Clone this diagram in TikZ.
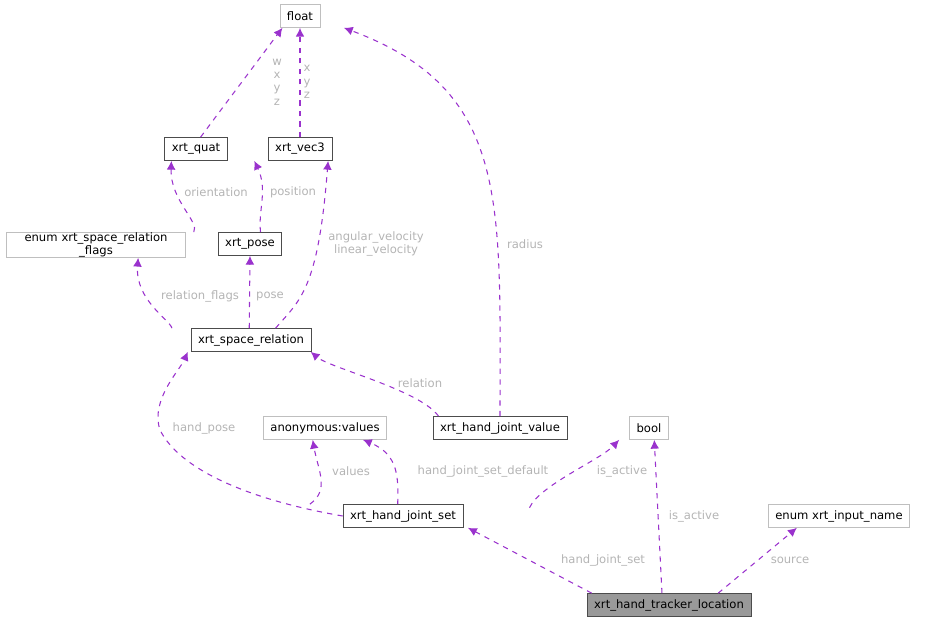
\documentclass[tikz,border=0pt]{standalone}
\usepackage{fontspec}
\setmainfont{DejaVu Sans}
\usetikzlibrary{arrows.meta}
\definecolor{edgepurple}{RGB}{154,50,205}
\definecolor{lblgray}{RGB}{180,180,180}
\definecolor{boxgray}{RGB}{191,191,191}
\tikzset{
  cls/.style = {draw=black!70, fill=white, rectangle, inner xsep=4pt, inner ysep=0pt, minimum height=0.46cm, font=\fontsize{6.6}{7.6}\selectfont, align=center},
  ext/.style = {cls, draw=boxgray},
  main/.style = {cls, fill=black!40},
  use/.style = {draw=edgepurple, dashed, line width=0.6pt, -{Latex[length=5pt,width=5pt]}},
  lbl/.style = {text=lblgray, font=\fontsize{6.6}{7.6}\selectfont, align=center, inner sep=1pt}
}

\begin{document}
\begin{tikzpicture}[x=0.02cm, y=-0.02cm]
    \useasboundingbox (0,0) rectangle (927,623);
    \node [ext] (float) at (300,16) {float};
    \node [cls] (quat) at (196,149) {xrt\_quat};
    \node [cls] (vec3) at (300,149) {xrt\_vec3};
    \node [ext, text width=3.3cm] (flags) at (96,245) {enum xrt\_space\_relation\\\_flags};
    \node [cls] (pose) at (250,244) {xrt\_pose};
    \node [cls] (relation) at (251,340) {xrt\_space\_relation};
    \node [ext] (values) at (325,428) {anonymous:values};
    \node [cls] (jointvalue) at (500,428) {xrt\_hand\_joint\_value};
    \node [ext] (bool) at (649,428) {bool};
    \node [cls] (jointset) at (403,516) {xrt\_hand\_joint\_set};
    \node [ext] (inputname) at (839,516) {enum xrt\_input\_name};
    \node [main] (tracker) at (669,605) {xrt\_hand\_tracker\_location};

    \draw [use] (quat.north east) ++(-27,0) coordinate (q1) -- ([xshift=-10]float.south);
    \node [lbl] at (277,82) {w\\x\\y\\z};
    \draw [use] (vec3.north) -- (float.south);
    \node [lbl] at (307,82) {x\\y\\z};
    \draw [use] ([xshift=-32]pose.north) .. controls (200,222) and (170,200) .. ([xshift=-14]quat.south);
    \node [lbl] at (216,192) {orientation};
    \draw [use] ([xshift=6]pose.north) .. controls (258,210) and (268,190) .. ([xshift=-26]vec3.south);
    \node [lbl] at (293,192) {position};
    \draw [use] ([xshift=-45]relation.north) .. controls (170,320) and (135,300) .. ([xshift=24]flags.south);
    \node [lbl] at (200,296) {relation\_flags};
    \draw [use] ([xshift=-1]relation.north) -- (pose.south);
    \node [lbl] at (270,296) {pose};
    \draw [use] ([xshift=14]relation.north) .. controls (300,300) and (318,290) .. ([xshift=16]vec3.south);
    \node [lbl] at (376,244) {angular\_velocity\\linear\_velocity};
    \draw [use] (jointvalue.north) .. controls (500,200) and (510,90) .. ([xshift=25]float.south);
    \node [lbl] at (525,244) {radius};
    \draw [use] ([xshift=-35]jointvalue.north) .. controls (420,390) and (330,368) .. ([xshift=34]relation.south);
    \node [lbl] at (420,383) {relation};
    \draw [use] (jointset.west) .. controls (250,500) and (180,470) .. (160,430) .. controls (150,400) and (180,370) .. ([xshift=-36]relation.south);
    \node [lbl] at (204,428) {hand\_pose};
    \draw [use] ([xshift=-53]jointset.north) .. controls (330,490) and (318,470) .. ([xshift=-7]values.south);
    \node [lbl] at (351,471) {values};
    \draw [use] ([xshift=-3]jointset.north) .. controls (398,480) and (400,455) .. ([xshift=-78]jointvalue.south);
    \node [lbl] at (483,471) {hand\_joint\_set\_default};
    \draw [use] ([xshift=72,yshift=-2]jointset.north) .. controls (540,485) and (600,460) .. ([xshift=-17]bool.south);
    \node [lbl] at (622,471) {is\_active};
    \draw [use] ([xshift=-4]tracker.north) -- ([xshift=3]bool.south);
    \node [lbl] at (694,516) {is\_active};
    \draw [use] ([xshift=-44]tracker.north) -- ([xshift=37]jointset.south);
    \node [lbl] at (603,560) {hand\_joint\_set};
    \draw [use] ([xshift=28]tracker.north) -- ([xshift=-24]inputname.south);
    \node [lbl] at (790,560) {source};
\end{tikzpicture}
\end{document}
